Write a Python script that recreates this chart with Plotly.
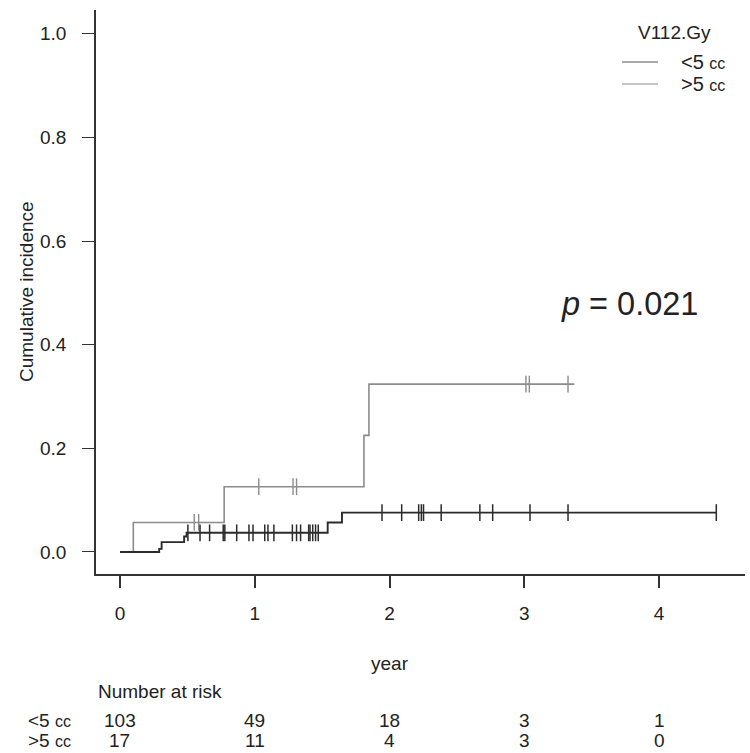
import numpy as np
import plotly.graph_objects as go

# ---- data ----
lo_times = [0, 0.291, 0.309, 0.476, 0.494, 1.541, 1.647, 4.424]
lo_cuminc = [0, 0.006, 0.019, 0.030, 0.037, 0.057, 0.076, 0.076]
lo_censor = [0.504, 0.594, 0.665, 0.766, 0.778, 0.866, 0.957, 0.987, 1.074, 1.098,
             1.142, 1.279, 1.310, 1.340, 1.400, 1.410, 1.430, 1.451, 1.471, 1.944,
             2.090, 2.216, 2.236, 2.252, 2.383, 2.670, 2.765, 3.042, 3.324, 4.424]

hi_times = [0, 0.099, 0.773, 1.810, 1.847, 3.371]
hi_cuminc = [0, 0.057, 0.126, 0.225, 0.324, 0.324]
hi_censor = [0.551, 0.584, 1.030, 1.284, 1.310, 3.012, 3.037, 3.324]

group_labels = ["<5 cc", ">5 cc"]
risk_years = [0, 1, 2, 3, 4]
risk_lo = [103, 49, 18, 3, 1]
risk_hi = [17, 11, 4, 3, 0]
x_ticks = [0, 1, 2, 3, 4]
y_ticks = [0.0, 0.2, 0.4, 0.6, 0.8, 1.0]

LO_COLOR = "#2b2b2b"
HI_COLOR = "#8c8c8c"
TEXT = "#222222"
FONT = "Liberation Sans, Arial, sans-serif"
FS = 19


def step_value(times, vals, t):
    i = np.searchsorted(np.array(times), t, side="right") - 1
    return [vals[k] for k in i]


def grp_html(label):
    sign, rest = label[0], label[1:].strip()
    num, unit = rest.split(" ")
    return f"{sign}{num} <span style='font-size:{FS-3}px'>{unit}</span>"


fig = go.Figure()
fig.add_trace(go.Scatter(x=hi_times, y=hi_cuminc, mode="lines", line_shape="hv",
                         line=dict(color=HI_COLOR, width=1.6), showlegend=False))
fig.add_trace(go.Scatter(x=hi_censor, y=step_value(hi_times, hi_cuminc, hi_censor),
                         mode="markers",
                         marker=dict(symbol="line-ns", size=12,
                                     line=dict(color=HI_COLOR, width=1.4)),
                         showlegend=False))
fig.add_trace(go.Scatter(x=lo_times, y=lo_cuminc, mode="lines", line_shape="hv",
                         line=dict(color=LO_COLOR, width=1.9), showlegend=False))
fig.add_trace(go.Scatter(x=lo_censor, y=step_value(lo_times, lo_cuminc, lo_censor),
                         mode="markers",
                         marker=dict(symbol="line-ns", size=12,
                                     line=dict(color=LO_COLOR, width=1.5)),
                         showlegend=False))

W, H = 750, 753
ml, mr, mt, mb = 96, 5, 10, 179

ann = []
# axis titles
ann.append(dict(text="year", x=2, xref="x", y=663, showarrow=False,
                font=dict(size=FS, color=TEXT, family=FONT)))
ann.append(dict(text="Cumulative incidence", x=26, y=292, textangle=-90,
                showarrow=False, font=dict(size=FS, color=TEXT, family=FONT)))
ann.append(dict(text="<i>p</i> = 0.021", x=629, y=304, showarrow=False,
                font=dict(size=32.5, color=TEXT, family=FONT)))
# legend
ann.append(dict(text="V112.Gy", x=674, y=32, showarrow=False,
                font=dict(size=FS, color=TEXT, family=FONT)))
ann.append(dict(text=grp_html(group_labels[0]), x=679, y=62, xanchor="left",
                showarrow=False, font=dict(size=FS + 1, color=TEXT, family=FONT)))
ann.append(dict(text=grp_html(group_labels[1]), x=679, y=84, xanchor="left",
                showarrow=False, font=dict(size=FS + 1, color=TEXT, family=FONT)))
# number at risk
ann.append(dict(text="Number at risk", x=96, y=691, xanchor="left", showarrow=False,
                font=dict(size=FS, color=TEXT, family=FONT)))
ann.append(dict(text=grp_html(group_labels[0]), x=26, y=720, xanchor="left",
                showarrow=False, font=dict(size=FS, color=TEXT, family=FONT)))
ann.append(dict(text=grp_html(group_labels[1]), x=26, y=740, xanchor="left",
                showarrow=False, font=dict(size=FS, color=TEXT, family=FONT)))

# convert pixel annotations to paper coords
pw, ph = W - ml - mr, H - mt - mb
final_ann = []
for a in ann:
    a = dict(a)
    if a.get("xref") != "x":
        a["xref"] = "paper"
        a["x"] = (a["x"] - ml) / pw
    a.setdefault("xanchor", "center")
    a["yref"] = "paper"
    a["y"] = 1 - (a["y"] - mt) / ph
    a.setdefault("yanchor", "middle")
    final_ann.append(a)

for rowy, vals in [(720, risk_lo), (740, risk_hi)]:
    for xv, v in zip(risk_years, vals):
        final_ann.append(dict(text=str(v), x=xv, xref="x", xanchor="center",
                              y=1 - (rowy - mt) / ph,
                              yref="paper", yanchor="middle", showarrow=False,
                              font=dict(size=FS, color=TEXT, family=FONT)))

shapes = []
for yy, col in [(62, "#555555"), (84, "#8c8c8c")]:
    shapes.append(dict(type="line", xref="paper", yref="paper",
                       x0=(622 - ml) / pw, x1=(658 - ml) / pw,
                       y0=1 - (yy - mt) / ph, y1=1 - (yy - mt) / ph,
                       line=dict(color=col, width=1.2)))

fig.update_layout(
    width=W, height=H,
    margin=dict(l=ml, r=mr, t=mt, b=mb),
    paper_bgcolor="white", plot_bgcolor="white",
    font=dict(family=FONT, color=TEXT),
    annotations=final_ann, shapes=shapes,
    showlegend=False,
)
fig.update_xaxes(range=[-0.1778, 4.637], tickvals=x_ticks,
                 ticktext=[str(v) for v in x_ticks],
                 showline=True, linecolor="#333333", linewidth=2.2,
                 ticks="outside", ticklen=12, tickwidth=1.5, tickcolor="#333333",
                 ticklabelstandoff=9, tickfont=dict(size=FS, color=TEXT),
                 showgrid=False, zeroline=False)
fig.update_yaxes(range=[-0.0425, 1.046], tickvals=y_ticks,
                 ticktext=[f"{v:.1f}" for v in y_ticks],
                 showline=True, linecolor="#333333", linewidth=1.5,
                 ticks="outside", ticklen=12, tickwidth=1.2, tickcolor="#333333",
                 ticklabelstandoff=12, tickfont=dict(size=FS, color=TEXT),
                 showgrid=False, zeroline=False)

fig.write_html("out.html", config={"displayModeBar": False},
               post_script="document.body.style.margin='0';document.body.style.overflow='hidden';")
